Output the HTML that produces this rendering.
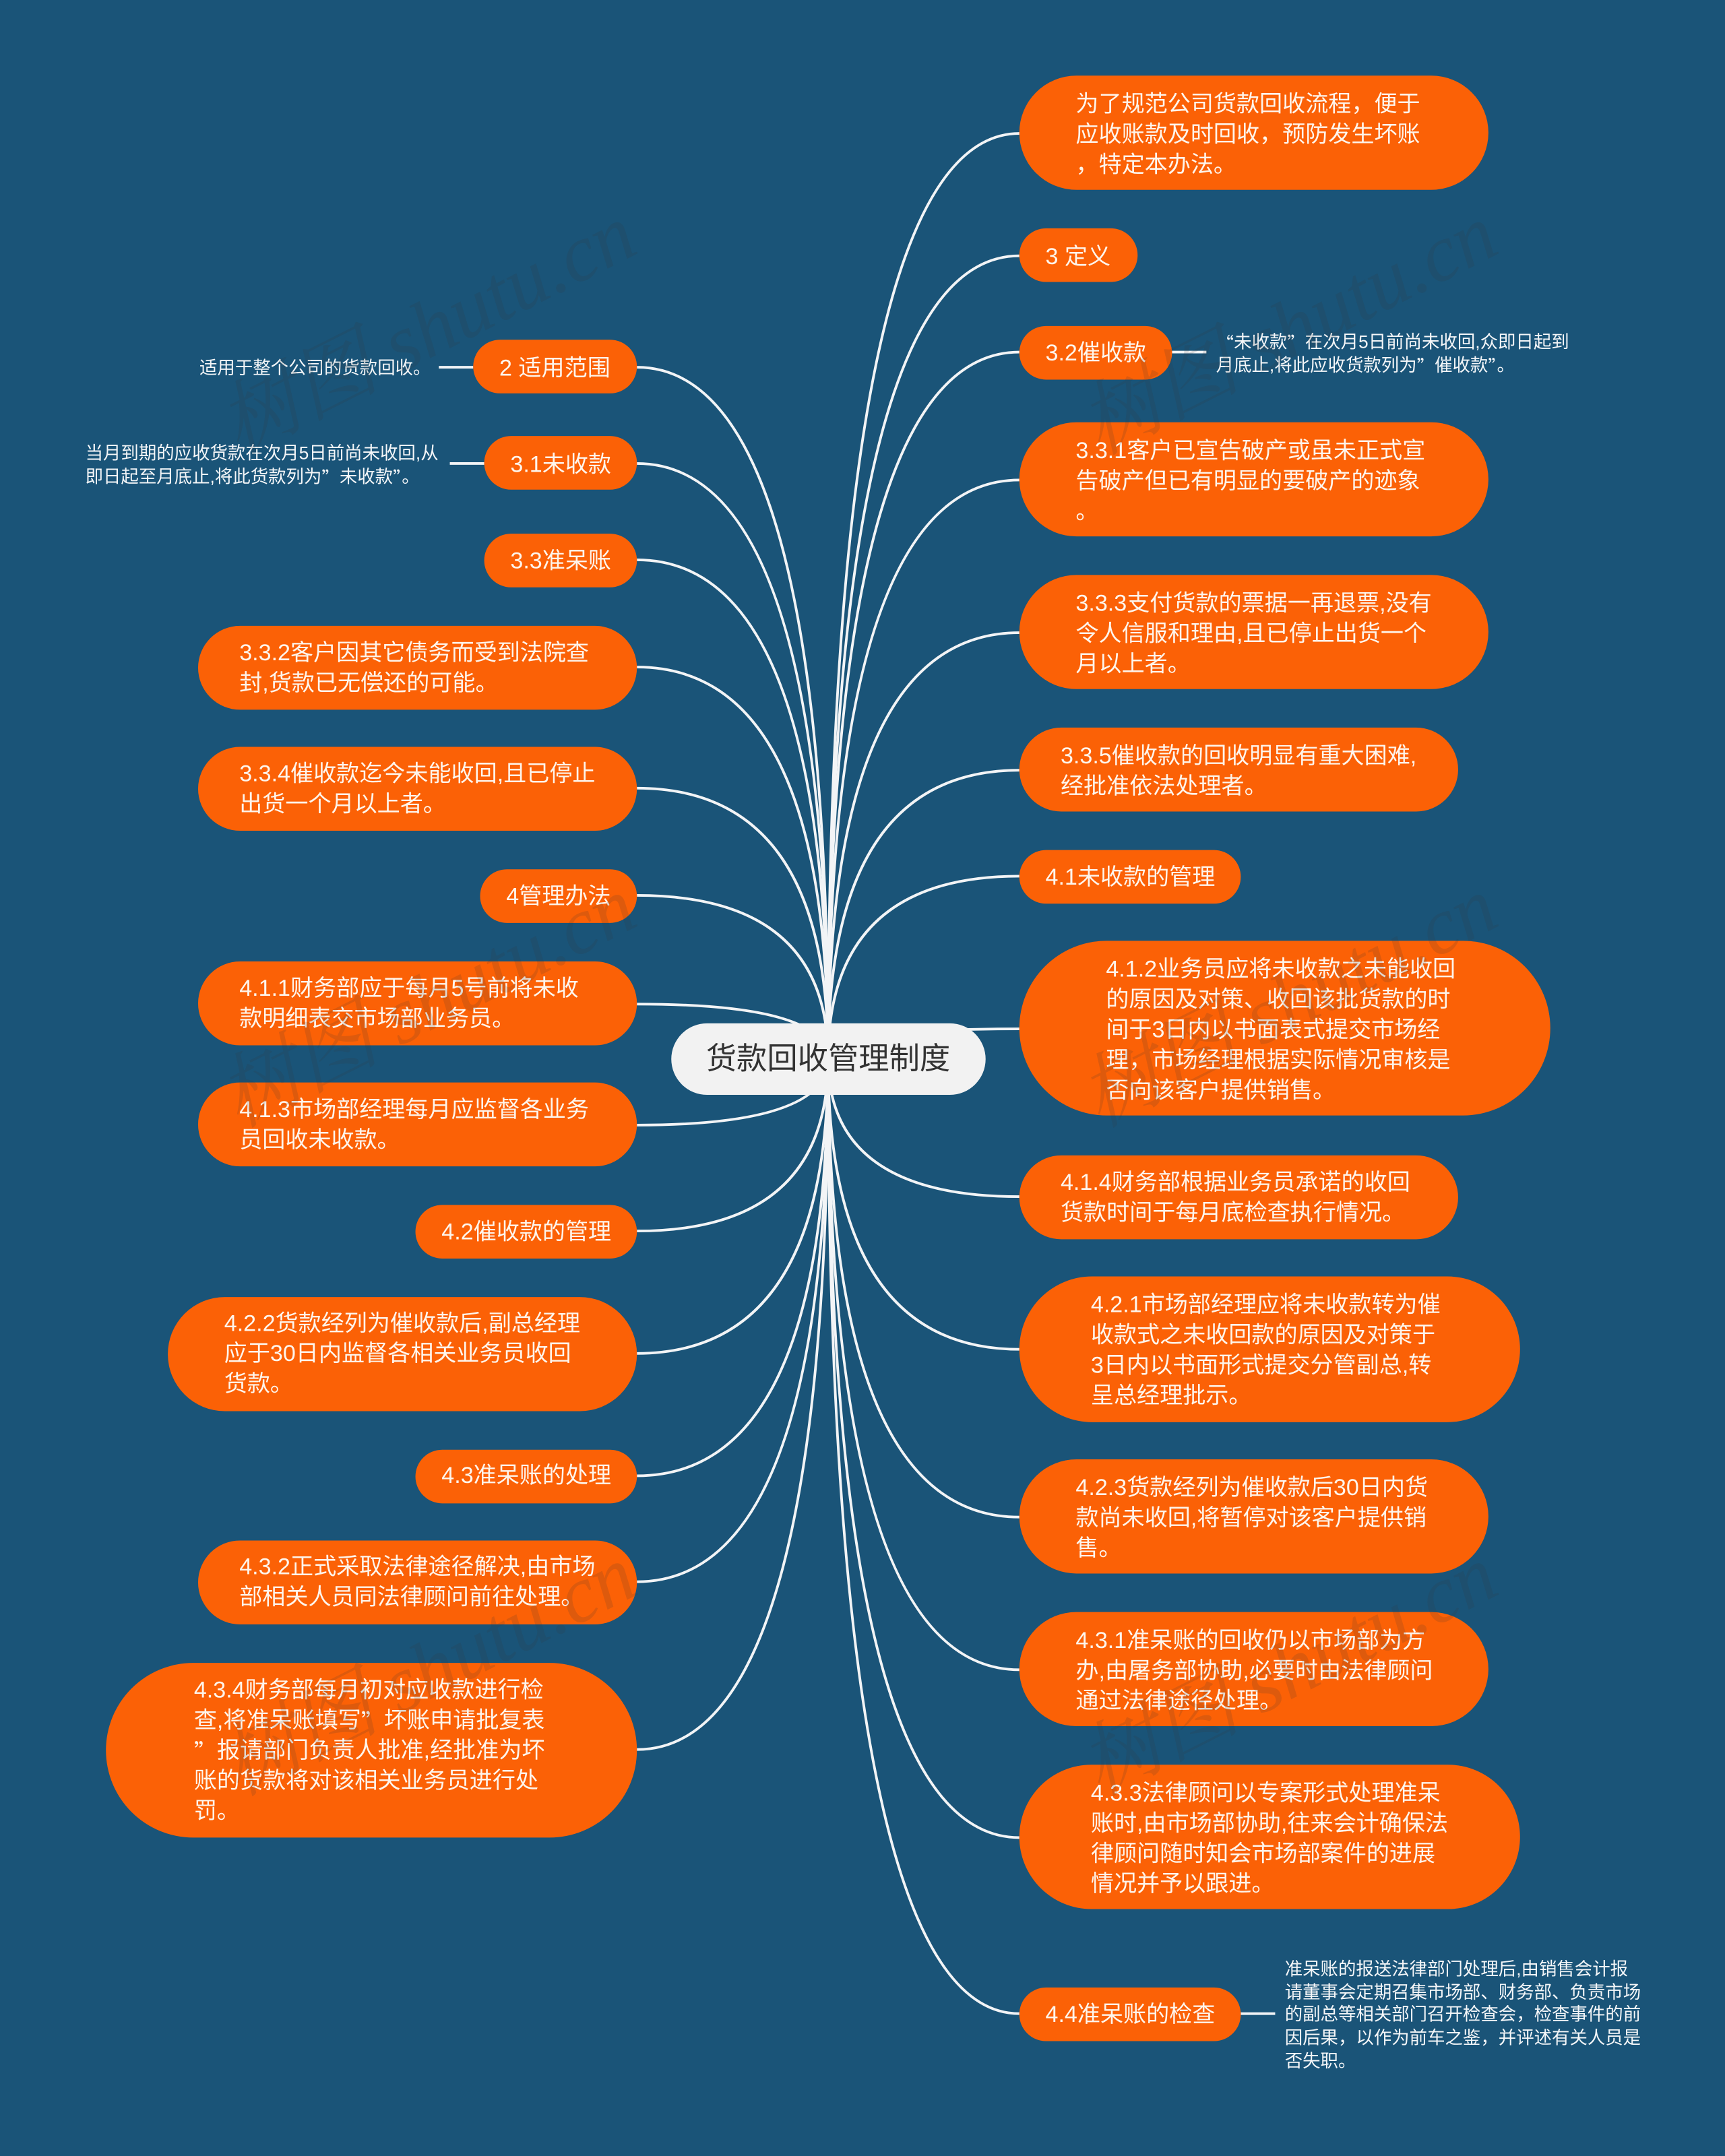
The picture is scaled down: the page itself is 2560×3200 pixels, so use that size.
<!DOCTYPE html>
<html lang="zh-CN">
<head>
<meta charset="utf-8">
<title>货款回收管理制度</title>
<style>
html,body{margin:0;padding:0;background:#1a5478;width:2560px;height:3200px;overflow:hidden}
svg{display:block}
text{font-family:"Liberation Sans","Noto Sans CJK SC",sans-serif;dominant-baseline:central}
.q{font-family:"Noto Sans CJK SC",sans-serif}
.n text{font-size:16.7px;fill:#fef5ec;transform:translateY(.7px)}
.n rect{fill:#fb6106}
.s text{font-size:12.950px;fill:#f4f6f8;transform:translateY(.5px)}
.e path,.e line{fill:none;stroke:#f2f4f6;stroke-width:1.9}
.w text{font-family:"Liberation Serif","Noto Serif CJK SC",serif;font-style:italic;font-size:58.500px;fill:#333;fill-opacity:.15;dominant-baseline:auto}
</style>
</head>
<body>
<svg xmlns="http://www.w3.org/2000/svg" width="2560" height="3200" viewBox="0 0 1254 1567.5">
<rect width="1254" height="1567.5" fill="#1a5478"/>
<g class="e">
<path d="M602 770Q602 97 741 97"/>
<path d="M602 770Q602 186 741 186"/>
<path d="M602 770Q602 256 741 256"/>
<path d="M602 770Q602 349 741 349"/>
<path d="M602 770Q602 460 741 460"/>
<path d="M602 770Q602 560 741 560"/>
<path d="M602 770Q602 637 741 637"/>
<path d="M602 770Q602 748 741 748"/>
<path d="M602 770Q602 870 741 870"/>
<path d="M602 770Q602 981 741 981"/>
<path d="M602 770Q602 1103 741 1103"/>
<path d="M602 770Q602 1214 741 1214"/>
<path d="M602 770Q602 1336 741 1336"/>
<path d="M602 770Q602 1464 741 1464"/>
<path d="M602 770Q602 267 463 267"/>
<path d="M602 770Q602 337 463 337"/>
<path d="M602 770Q602 407 463 407"/>
<path d="M602 770Q602 485 463 485"/>
<path d="M602 770Q602 573 463 573"/>
<path d="M602 770Q602 651 463 651"/>
<path d="M602 770Q602 730 463 730"/>
<path d="M602 770Q602 818 463 818"/>
<path d="M602 770Q602 895 463 895"/>
<path d="M602 770Q602 984 463 984"/>
<path d="M602 770Q602 1073 463 1073"/>
<path d="M602 770Q602 1150 463 1150"/>
<path d="M602 770Q602 1272 463 1272"/>
<line x1="852" y1="256" x2="877" y2="256"/>
<line x1="902" y1="1464" x2="927" y2="1464"/>
<line x1="319" y1="267" x2="344" y2="267"/>
<line x1="327" y1="337" x2="352" y2="337"/>
</g>
<g>
<rect x="488" y="744" width="228.500" height="52" rx="26" fill="#f2f2f2"/>
<text x="602" y="769.500" font-size="22.200" fill="#333333" text-anchor="middle">货款回收管理制度</text>
</g>
<g class="n">
<rect x="741" y="55" width="341" height="83" rx="41.500"/>
<text x="782" y="75">为了规范公司货款回收流程，便于</text>
<text x="782" y="97">应收账款及时回收，预防发生坏账</text>
<text x="782" y="119">，特定本办法。</text>
<rect x="741" y="166" width="86" height="39" rx="19.500"/>
<text x="760" y="186">3 定义</text>
<rect x="741" y="237" width="111" height="39" rx="19.500"/>
<text x="760" y="256">3.2催收款</text>
<rect x="741" y="307" width="341" height="83" rx="41.500"/>
<text x="782" y="327">3.3.1客户已宣告破产或虽未正式宣</text>
<text x="782" y="349">告破产但已有明显的要破产的迹象</text>
<text x="782" y="371">。</text>
<rect x="741" y="418" width="341" height="83" rx="41.500"/>
<text x="782" y="438">3.3.3支付货款的票据一再退票,没有</text>
<text x="782" y="460">令人信服和理由,且已停止出货一个</text>
<text x="782" y="482">月以上者。</text>
<rect x="741" y="529" width="319" height="61" rx="30.500"/>
<text x="771" y="549">3.3.5催收款的回收明显有重大困难,</text>
<text x="771" y="571">经批准依法处理者。</text>
<rect x="741" y="618" width="161" height="39" rx="19.500"/>
<text x="760" y="637">4.1未收款的管理</text>
<rect x="741" y="684" width="386" height="127" rx="63.500"/>
<text x="804" y="704">4.1.2业务员应将未收款之未能收回</text>
<text x="804" y="726">的原因及对策、收回该批货款的时</text>
<text x="804" y="748">间于3日内以书面表式提交市场经</text>
<text x="804" y="770">理，市场经理根据实际情况审核是</text>
<text x="804" y="792">否向该客户提供销售。</text>
<rect x="741" y="840" width="319" height="61" rx="30.500"/>
<text x="771" y="859">4.1.4财务部根据业务员承诺的收回</text>
<text x="771" y="881">货款时间于每月底检查执行情况。</text>
<rect x="741" y="928" width="364" height="106" rx="53"/>
<text x="793" y="948">4.2.1市场部经理应将未收款转为催</text>
<text x="793" y="970">收款式之未收回款的原因及对策于</text>
<text x="793" y="992">3日内以书面形式提交分管副总,转</text>
<text x="793" y="1014">呈总经理批示。</text>
<rect x="741" y="1061" width="341" height="83" rx="41.500"/>
<text x="782" y="1081">4.2.3货款经列为催收款后30日内货</text>
<text x="782" y="1103">款尚未收回,将暂停对该客户提供销</text>
<text x="782" y="1125">售。</text>
<rect x="741" y="1172" width="341" height="83" rx="41.500"/>
<text x="782" y="1192">4.3.1准呆账的回收仍以市场部为方</text>
<text x="782" y="1214">办,由屠务部协助,必要时由法律顾问</text>
<text x="782" y="1236">通过法律途径处理。</text>
<rect x="741" y="1283" width="364" height="105" rx="52.500"/>
<text x="793" y="1303">4.3.3法律顾问以专案形式处理准呆</text>
<text x="793" y="1325">账时,由市场部协助,往来会计确保法</text>
<text x="793" y="1347">律顾问随时知会市场部案件的进展</text>
<text x="793" y="1369">情况并予以跟进。</text>
<rect x="741" y="1445" width="161" height="39" rx="19.500"/>
<text x="760" y="1464">4.4准呆账的检查</text>
<rect x="344" y="247" width="119" height="39" rx="19.500"/>
<text x="363" y="267">2 适用范围</text>
<rect x="352" y="317" width="111" height="39" rx="19.500"/>
<text x="371" y="337">3.1未收款</text>
<rect x="352" y="388" width="111" height="39" rx="19.500"/>
<text x="371" y="407">3.3准呆账</text>
<rect x="144" y="455" width="319" height="61" rx="30.500"/>
<text x="174" y="474">3.3.2客户因其它债务而受到法院查</text>
<text x="174" y="496">封,货款已无偿还的可能。</text>
<rect x="144" y="543" width="319" height="61" rx="30.500"/>
<text x="174" y="562">3.3.4催收款迄今未能收回,且已停止</text>
<text x="174" y="584">出货一个月以上者。</text>
<rect x="349" y="632" width="114" height="39" rx="19.500"/>
<text x="368" y="651">4管理办法</text>
<rect x="144" y="699" width="319" height="61" rx="30.500"/>
<text x="174" y="718">4.1.1财务部应于每月5号前将未收</text>
<text x="174" y="740">款明细表交市场部业务员。</text>
<rect x="144" y="787" width="319" height="61" rx="30.500"/>
<text x="174" y="806">4.1.3市场部经理每月应监督各业务</text>
<text x="174" y="828">员回收未收款。</text>
<rect x="302" y="876" width="161" height="39" rx="19.500"/>
<text x="321" y="895">4.2催收款的管理</text>
<rect x="122" y="943" width="341" height="83" rx="41.500"/>
<text x="163" y="961.500">4.2.2货款经列为催收款后,副总经理</text>
<text x="163" y="983.500">应于30日内监督各相关业务员收回</text>
<text x="163" y="1005.500">货款。</text>
<rect x="302" y="1054" width="161" height="39" rx="19.500"/>
<text x="321" y="1072">4.3准呆账的处理</text>
<rect x="144" y="1120" width="319" height="61" rx="30.500"/>
<text x="174" y="1138.500">4.3.2正式采取法律途径解决,由市场</text>
<text x="174" y="1160.500">部相关人员同法律顾问前往处理。</text>
<rect x="77" y="1209" width="386" height="127" rx="63.500"/>
<text x="141" y="1228">4.3.4财务部每月初对应收款进行检</text>
<text x="141" y="1250">查,将准呆账填写<tspan class="q">”</tspan>坏账申请批复表</text>
<text x="141" y="1272"><tspan class="q">”</tspan>报请部门负责人批准,经批准为坏</text>
<text x="141" y="1294">账的货款将对该相关业务员进行处</text>
<text x="141" y="1316">罚。</text>
</g>
<g class="s">
<text x="145" y="267">适用于整个公司的货款回收。</text>
<text x="62" y="329">当月到期的应收货款在次月5日前尚未收回,从</text>
<text x="62" y="346">即日起至月底止,将此货款列为<tspan class="q">”</tspan>未收款<tspan class="q">”</tspan>。</text>
<text x="884" y="248"><tspan class="q">“</tspan>未收款<tspan class="q">”</tspan>在次月5日前尚未收回,众即日起到</text>
<text x="884" y="265">月底止,将此应收货款列为<tspan class="q">”</tspan>催收款<tspan class="q">”</tspan>。</text>
<text x="934" y="1431">准呆账的报送法律部门处理后,由销售会计报</text>
<text x="934" y="1448">请董事会定期召集市场部、财务部、负责市场</text>
<text x="934" y="1464">的副总等相关部门召开检查会，检查事件的前</text>
<text x="934" y="1481">因后果，以作为前车之鉴，并评述有关人员是</text>
<text x="934" y="1498">否失职。</text>
</g>
<g class="w">
<text transform="translate(173 331) rotate(-26.800)">树图 shutu.cn</text>
<text transform="translate(799 331) rotate(-26.800)">树图 shutu.cn</text>
<text transform="translate(173 820) rotate(-26.800)">树图 shutu.cn</text>
<text transform="translate(799 820) rotate(-26.800)">树图 shutu.cn</text>
<text transform="translate(173 1306) rotate(-26.800)">树图 shutu.cn</text>
<text transform="translate(799 1306) rotate(-26.800)">树图 shutu.cn</text>
</g>
</svg>
</body>
</html>
